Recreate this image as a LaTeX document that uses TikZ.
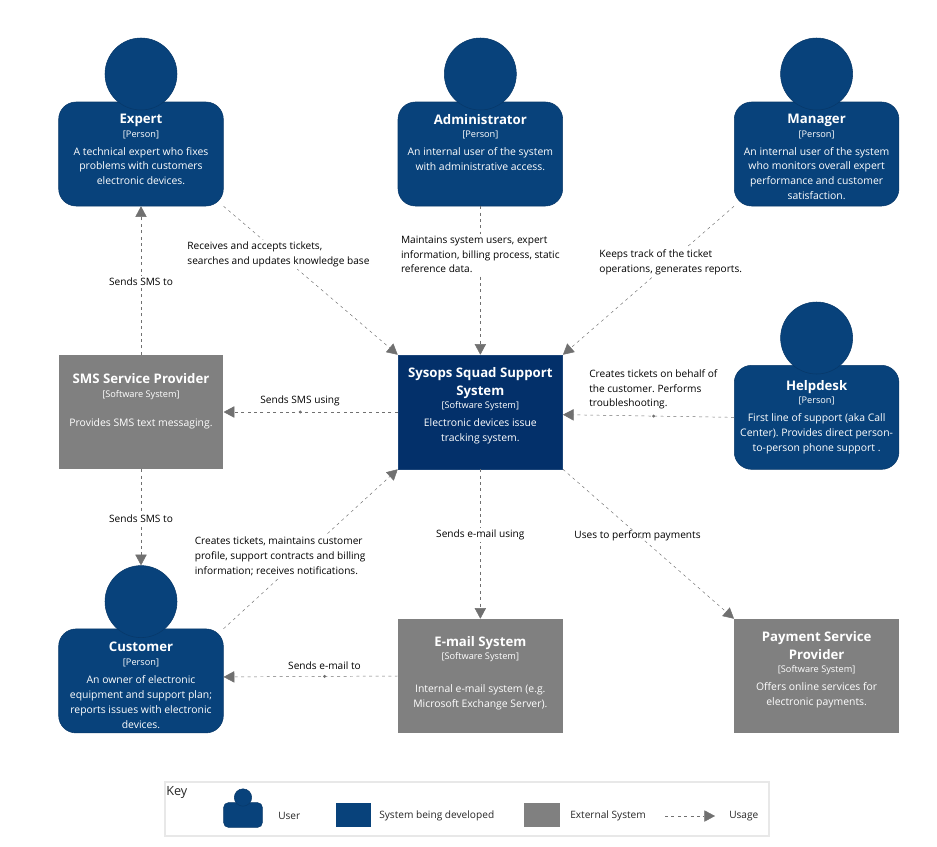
\documentclass[tikz,border=0pt]{standalone}
\usepackage{fontspec}
\setmainfont{Open Sans}
\usetikzlibrary{arrows.meta}
\frenchspacing
\definecolor{personblue}{HTML}{08427B}
\definecolor{sysblue}{HTML}{03306A}
\definecolor{extgray}{HTML}{808080}
\definecolor{tipgray}{HTML}{707070}
\definecolor{keyline}{HTML}{E8E8E8}
% title, type, description, height of the text box (smaller pushes the text down)
\newcommand{\cardtext}[4]{\parbox[c][#4][t]{118pt}{\centering\color{white}\linespread{1}\selectfont
    {\fontsize{9.9}{13.4}\selectfont\bfseries #1\par}\vspace{0.8pt}
    {\fontsize{6.9}{9.5}\selectfont [#2]\par}\vspace{2.2pt}
    {\fontsize{7.8}{11.2}\selectfont #3\par}}}
\tikzset{
    boxbase/.style = {inner sep=0pt, minimum width=123.5pt},
    person/.style = {boxbase, draw=personblue!85!black, fill=personblue, rounded corners=13pt, minimum height=78pt},
    head/.style = {draw=personblue!85!black, fill=personblue, circle, inner sep=0pt, minimum size=54pt},
    focus/.style = {boxbase, draw=sysblue!90!white, fill=sysblue, minimum height=85.5pt},
    external/.style = {boxbase, fill=extgray, minimum height=85.5pt},
    usage/.style = {draw=tipgray, line width=0.35pt, dash pattern=on 2.2pt off 2.6pt, -{Triangle[length=8pt,width=8.5pt,fill=tipgray]}},
    lbl/.style = {font=\fontsize{7.6}{11.2}\selectfont, align=left, text=black, inner sep=1.5pt, yshift=-1pt},
    whitelbl/.style = {lbl, fill=white},
    keytext/.style = {font=\fontsize{7.6}{10}\selectfont, text=black!85, inner sep=0pt, anchor=west, yshift=-0.6pt},
    mid/.style = {circle, fill=tipgray, inner sep=0pt, minimum size=2.4pt},
}
\begin{document}
\begin{tikzpicture}[x=0.75pt, y=-0.75pt]
    \useasboundingbox (0,0) rectangle (937,846);

    % people, top row
    \node[person] (n_expert) at (141,154) {\cardtext{Expert}{Person}{A technical expert who fixes\\problems with customers\\electronic devices.}{60pt}};
    \node[person] (n_admin) [right of=n_expert, node distance=254.5pt] {\cardtext{Administrator}{Person}{An internal user of the system\\with administrative access.}{60pt}};
    \node[person] (n_manager) [right of=n_admin, node distance=252.2pt] {\cardtext{Manager}{Person}{An internal user of the system\\who monitors overall expert\\performance and customer\\satisfaction.}{60pt}};
    \node[head] (h_expert) [above of=n_expert, node distance=60pt] {};
    \node[head] (h_admin) [above of=n_admin, node distance=60pt] {};
    \node[head] (h_manager) [above of=n_manager, node distance=60pt] {};

    % middle row
    \node[external] (n_sms) [below of=n_expert, node distance=193.5pt] {\cardtext{SMS Service Provider}{Software System}{\vspace{9pt}Provides SMS text messaging.}{58pt}};
    \node[focus] (n_sysops) [below of=n_admin, node distance=193.5pt] {\cardtext{Sysops Squad Support System}{Software System}{Electronic devices issue\\tracking system.}{67pt}};
    \node[person] (n_helpdesk) [below of=n_manager, node distance=197.5pt] {\cardtext{Helpdesk}{Person}{First line of support (aka Call\\Center). Provides direct person-\\to-person phone support .}{56pt}};
    \node[head] (h_helpdesk) [above of=n_helpdesk, node distance=59.5pt] {};

    % bottom row
    \node[person] (n_customer) [below of=n_sms, node distance=201.7pt] {\cardtext{Customer}{Person}{An owner of electronic\\equipment and support plan;\\reports issues with electronic\\devices.}{58pt}};
    \node[head] (h_customer) [above of=n_customer, node distance=59.5pt] {};
    \node[external] (n_email) [below of=n_sysops, node distance=198pt] {\cardtext{E-mail System}{Software System}{\vspace{11pt}Internal e-mail system (e.g.\\Microsoft Exchange Server).}{60pt}};
    \node[external] (n_payment) [right of=n_email, node distance=252.2pt] {\cardtext{Payment Service Provider}{Software System}{Offers online services for\\electronic payments.}{67pt}};

    % connectors
    \draw[usage] (n_expert.south east) -- node[whitelbl, pos=0.315] (l_expert) {Receives and accepts tickets,\\searches and updates knowledge base} (n_sysops.north west);
    \draw[usage] (n_admin.south) -- node[whitelbl, pos=0.315] (l_admin) {Maintains system users, expert\\information, billing process, static\\reference data.} (n_sysops.north);
    \draw[usage] (n_manager.south west) -- node[whitelbl, pos=0.37] (l_manager) {Keeps track of the ticket\\operations, generates reports.} (n_sysops.north east);
    \draw[usage] (n_helpdesk.west) -- node[mid, pos=0.47] (d_helpdesk) {} ([yshift=-2pt]n_sysops.east);
    \draw[usage] (n_sysops.west) -- node[mid, pos=0.56] (d_sms) {} (n_sms.east);
    \draw[usage] (n_sms.north) -- node[whitelbl] (l_smsup) {Sends SMS to} (n_expert.south);
    \draw[usage] (n_sms.south) -- node[whitelbl] (l_smsdown) {Sends SMS to} (h_customer.north);
    \draw[usage] (n_customer.north east) -- node[whitelbl, pos=0.4625, xshift=-18pt] (l_customer) {Creates tickets, maintains customer\\profile, support contracts and billing\\information; receives notifications.} (n_sysops.south west);
    \draw[usage] (n_sysops.south) -- node[whitelbl, pos=0.43] (l_email) {Sends e-mail using} (n_email.north);
    \draw[usage] (n_sysops.south east) -- (n_payment.north west);
    \draw[usage] (n_email.west) -- node[mid, pos=0.42] (d_email) {} ([yshift=3pt]n_customer.east);

    % labels beside the lines
    \node[lbl, anchor=west] (l_helpdesk) at (587,388) {Creates tickets on behalf of\\the customer. Performs\\troubleshooting.};
    \node[lbl] (l_smsusing) at (300,400) {Sends SMS using};
    \node[lbl] (l_emailto) at (324.5,664) {Sends e-mail to};
    \node[lbl] (l_payment) at (637.5,534) {Uses to perform payments};

    % key
    \node[draw=keyline, line width=0.8pt, minimum width=453pt, minimum height=40.5pt, inner sep=0pt] (k_frame) at (467,809) {};
    \node[font=\fontsize{9.5}{11}\selectfont, text=black!85, inner sep=0pt, anchor=west] (k_title) at (166,792) {Key};
    \node[draw=personblue!85!black, fill=personblue, rounded corners=3.5pt, minimum width=29pt, minimum height=18.5pt, inner sep=0pt] (k_body) at (243,815) {};
    \node[draw=personblue!85!black, fill=personblue, circle, minimum size=13pt, inner sep=0pt] (k_head) at (243,797.5) {};
    \node[keytext] (k_user) at (278,815) {User};
    \node[fill=personblue, minimum width=26.5pt, minimum height=18.5pt, inner sep=0pt] (k_sys) at (353.5,815) {};
    \node[keytext] (k_systxt) at (379,815) {System being developed};
    \node[fill=extgray, minimum width=26.5pt, minimum height=18.5pt, inner sep=0pt] (k_ext) at (542,815) {};
    \node[keytext] (k_exttxt) at (570,815) {External System};
    \coordinate (k_from) at (665,816);
    \coordinate (k_to) at (715,816);
    \draw[usage] (k_from) -- (k_to);
    \node[keytext] (k_usage) at (729,815) {Usage};
\end{tikzpicture}
\end{document}
